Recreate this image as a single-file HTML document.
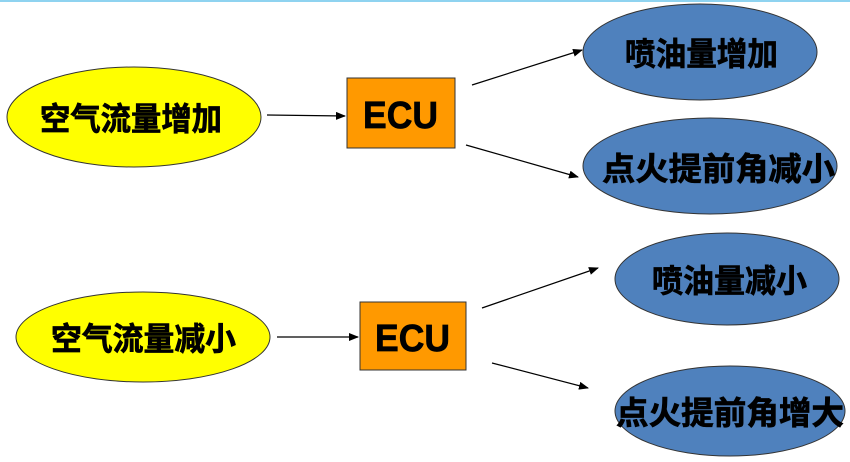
<!DOCTYPE html>
<html><head><meta charset="utf-8"><style>
body{margin:0;background:#fff;width:850px;height:457px;overflow:hidden}
svg text{font-family:"Liberation Sans","Noto Sans CJK SC",sans-serif;font-weight:bold;fill:#000;stroke:#000;stroke-width:0.7}
</style></head><body>
<svg width="850" height="457" viewBox="0 0 850 457">
<defs><marker id="a" markerWidth="10" markerHeight="8" refX="9" refY="4" orient="auto" markerUnits="userSpaceOnUse"><path d="M0,0 L10,4 L0,8 z" fill="#000"/></marker></defs>
<rect x="0" y="0" width="850" height="2" fill="#8fd3f0"/>
<ellipse cx="134" cy="117" rx="127" ry="50" fill="#ffff00" stroke="#333" stroke-width="1"/>
<text x="40" y="130" font-size="32" textLength="182" lengthAdjust="spacingAndGlyphs">空气流量增加</text>
<rect x="347" y="78" width="108" height="70" fill="#ff9900" stroke="#333"/>
<text x="363" y="128" font-size="38" textLength="75" lengthAdjust="spacingAndGlyphs">ECU</text>
<ellipse cx="700" cy="52" rx="117" ry="48" fill="#4f81bd" stroke="#333"/>
<text x="625" y="65" font-size="32" textLength="153" lengthAdjust="spacingAndGlyphs">喷油量增加</text>
<ellipse cx="710" cy="166" rx="127" ry="48" fill="#4f81bd" stroke="#333"/>
<text x="602" y="180" font-size="32" textLength="233" lengthAdjust="spacingAndGlyphs">点火提前角减小</text>
<g stroke="#000" stroke-width="1.2" marker-end="url(#a)">
<line x1="267" y1="115" x2="345" y2="116"/>
<line x1="472" y1="85" x2="582" y2="50"/>
<line x1="466" y1="145" x2="578" y2="177"/>
<line x1="277" y1="337" x2="358" y2="337"/>
<line x1="482" y1="308" x2="598" y2="268"/>
<line x1="492" y1="363" x2="588" y2="388"/>
</g>
<ellipse cx="143" cy="337" rx="127" ry="45" fill="#ffff00" stroke="#333"/>
<text x="51" y="350" font-size="32" textLength="185" lengthAdjust="spacingAndGlyphs">空气流量减小</text>
<rect x="360" y="302" width="106" height="68" fill="#ff9900" stroke="#333"/>
<text x="375" y="351" font-size="38" textLength="75" lengthAdjust="spacingAndGlyphs">ECU</text>
<ellipse cx="727" cy="279" rx="112" ry="46" fill="#4f81bd" stroke="#333"/>
<text x="652" y="292" font-size="32" textLength="155" lengthAdjust="spacingAndGlyphs">喷油量减小</text>
<ellipse cx="730" cy="411" rx="115" ry="45" fill="#4f81bd" stroke="#333"/>
<text x="616" y="424" font-size="32" textLength="228" lengthAdjust="spacingAndGlyphs">点火提前角增大</text>
</svg>
</body></html>
